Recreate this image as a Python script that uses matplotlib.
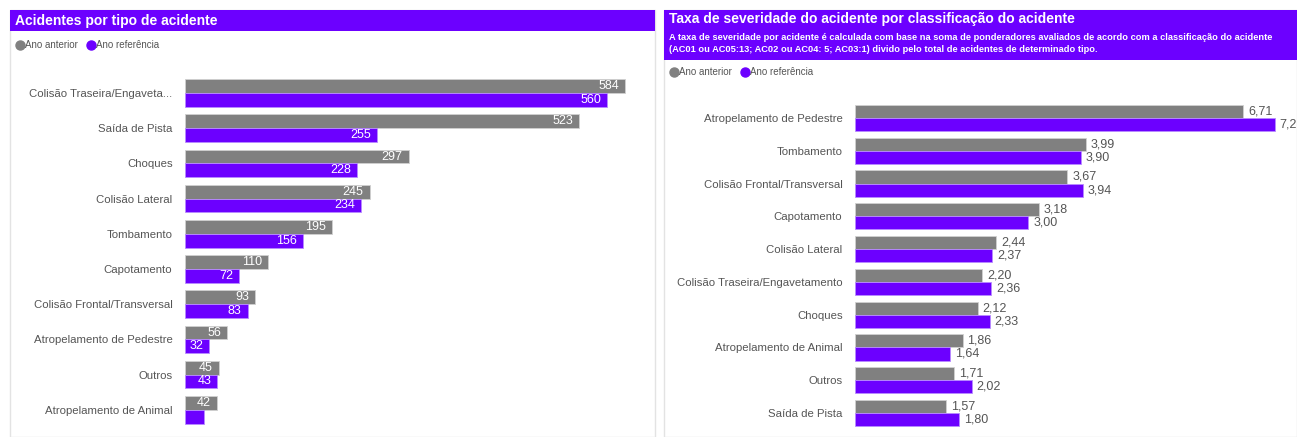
import matplotlib.pyplot as plt
from matplotlib.patches import Rectangle
from matplotlib.lines import Line2D

plt.rcParams['font.family'] = ['Liberation Sans', 'DejaVu Sans']

W, H = 1297, 437
ROXO = '#6c00ff'
CINZA = '#808080'
TXT = '#555555'

# dados - acidentes por tipo
tipos = ['Colisão Traseira/Engaveta...', 'Saída de Pista', 'Choques', 'Colisão Lateral',
         'Tombamento', 'Capotamento', 'Colisão Frontal/Transversal',
         'Atropelamento de Pedestre', 'Outros', 'Atropelamento de Animal']
qtd_anterior = [584, 523, 297, 245, 195, 110, 93, 56, 45, 42]
qtd_referencia = [560, 255, 228, 234, 156, 72, 83, 32, 43, 25]

# dados - taxa de severidade
classes = ['Atropelamento de Pedestre', 'Tombamento', 'Colisão Frontal/Transversal',
           'Capotamento', 'Colisão Lateral', 'Colisão Traseira/Engavetamento',
           'Choques', 'Atropelamento de Animal', 'Outros', 'Saída de Pista']
taxa_anterior = [6.71, 3.99, 3.67, 3.18, 2.44, 2.20, 2.12, 1.86, 1.71, 1.57]
taxa_referencia = [7.26, 3.90, 3.94, 3.00, 2.37, 2.36, 2.33, 1.64, 2.02, 1.80]


def px(x0, y0, x1, y1):
    # retangulo em pixels (origem no topo) -> coordenadas da figura
    return [x0 / W, 1 - y1 / H, (x1 - x0) / W, (y1 - y0) / H]


fig = plt.figure(figsize=(W / 100, H / 100), dpi=100)
fig.patch.set_facecolor('white')


def fx(x):
    return x / W


def fy(y):
    return 1 - y / H


def painel(x0, x1, y_head):
    fig.patches.append(Rectangle((fx(x0), 0), fx(x1 - x0), fy(10), transform=fig.transFigure,
                                 facecolor='white', edgecolor='#e3e3e3', lw=1, zorder=-2))
    fig.patches.append(Rectangle((fx(x0), fy(y_head)), fx(x1 - x0), (y_head - 10) / H,
                                 transform=fig.transFigure, facecolor=ROXO, edgecolor='none',
                                 zorder=-1))


def legenda(x, y):
    fig.add_artist(Line2D([fx(x)], [fy(y)], marker='o', ms=6.5, color=CINZA, lw=0,
                          transform=fig.transFigure))
    fig.text(fx(x + 5), fy(y), 'Ano anterior', fontsize=7, color=TXT, va='center')
    fig.add_artist(Line2D([fx(x + 71)], [fy(y)], marker='o', ms=6.5, color=ROXO, lw=0,
                          transform=fig.transFigure))
    fig.text(fx(x + 76), fy(y), 'Ano referência', fontsize=7, color=TXT, va='center')


# painel esquerdo
painel(10, 655, 31)
fig.text(fx(15), fy(20.5), 'Acidentes por tipo de acidente', fontsize=10, fontweight='bold',
         color='white', va='center')
legenda(20, 45)

# painel direito
painel(664, 1297, 60)
fig.text(fx(669), fy(19.5), 'Taxa de severidade do acidente por classificação do acidente',
         fontsize=10, fontweight='bold', color='white', va='center')
fig.text(fx(669), fy(37.5), 'A taxa de severidade por acidente é calculada com base na soma de '
         'ponderadores avaliados de acordo com a classificação do acidente', fontsize=6.7,
         fontweight='bold', color='white', va='center')
fig.text(fx(669), fy(49.5), '(AC01 ou AC05:13; AC02 ou AC04: 5; AC03:1) divido pelo total de '
         'acidentes de determinado tipo.', fontsize=6.7, fontweight='bold', color='white', va='center')
legenda(674, 72)

h = 0.39

# grafico esquerdo
ax1 = fig.add_axes(px(185, 75, 655, 428))
n = len(tipos)
pos = list(range(n))
ax1.barh([p - h / 2 for p in pos], qtd_anterior, height=h, color=CINZA,
         edgecolor='#d0d0d0', lw=0.6)
ax1.barh([p + h / 2 for p in pos], qtd_referencia, height=h, color=ROXO,
         edgecolor='#b88cff', lw=0.6)
xmax1 = 584 * 470 / 440
off1 = 6 * xmax1 / 470
for p, a, r in zip(pos, qtd_anterior, qtd_referencia):
    ax1.text(a - off1, p - h / 2, str(a), color='white', fontsize=9, ha='right', va='center')
    if r >= 30:
        ax1.text(r - off1, p + h / 2, str(r), color='white', fontsize=9, ha='right', va='center')
ax1.set_xlim(0, xmax1)
step1 = (409.8 - 93) / 9
top = -(93 - 75) / step1
ax1.set_ylim(top + (428 - 75) / step1, top)
ax1.set_yticks(pos)
ax1.set_yticklabels(tipos, fontsize=8.2, color=TXT)
ax1.tick_params(axis='y', length=0, pad=9)
ax1.set_xticks([])
for s in ax1.spines.values():
    s.set_visible(False)
ax1.patch.set_alpha(0)

# grafico direito
ax2 = fig.add_axes(px(855, 100, 1297, 428))
h2 = 0.4
pos2 = list(range(len(classes)))
ax2.barh([p - h2 / 2 for p in pos2], taxa_anterior, height=h2, color=CINZA,
         edgecolor='#d0d0d0', lw=0.6)
ax2.barh([p + h2 / 2 for p in pos2], taxa_referencia, height=h2, color=ROXO,
         edgecolor='#b88cff', lw=0.6)
xmax2 = 442 / (388 / 6.71)
off2 = 5 * xmax2 / 442
fmt = lambda v: f'{v:.2f}'.replace('.', ',')
for p, a, r in zip(pos2, taxa_anterior, taxa_referencia):
    ax2.text(a + off2, p - h2 / 2, fmt(a), color=TXT, fontsize=9, va='center', clip_on=True)
    ax2.text(r + off2, p + h2 / 2, fmt(r), color=TXT, fontsize=9, va='center', clip_on=True)
ax2.set_xlim(0, xmax2)
step2 = (413 - 118) / 9
top2 = -(118 - 100) / step2
ax2.set_ylim(top2 + (428 - 100) / step2, top2)
ax2.set_yticks(pos2)
ax2.set_yticklabels(classes, fontsize=8.2, color=TXT)
ax2.tick_params(axis='y', length=0, pad=9)
ax2.set_xticks([])
for s in ax2.spines.values():
    s.set_visible(False)
ax2.patch.set_alpha(0)

fig.savefig('out.png', dpi=100)
